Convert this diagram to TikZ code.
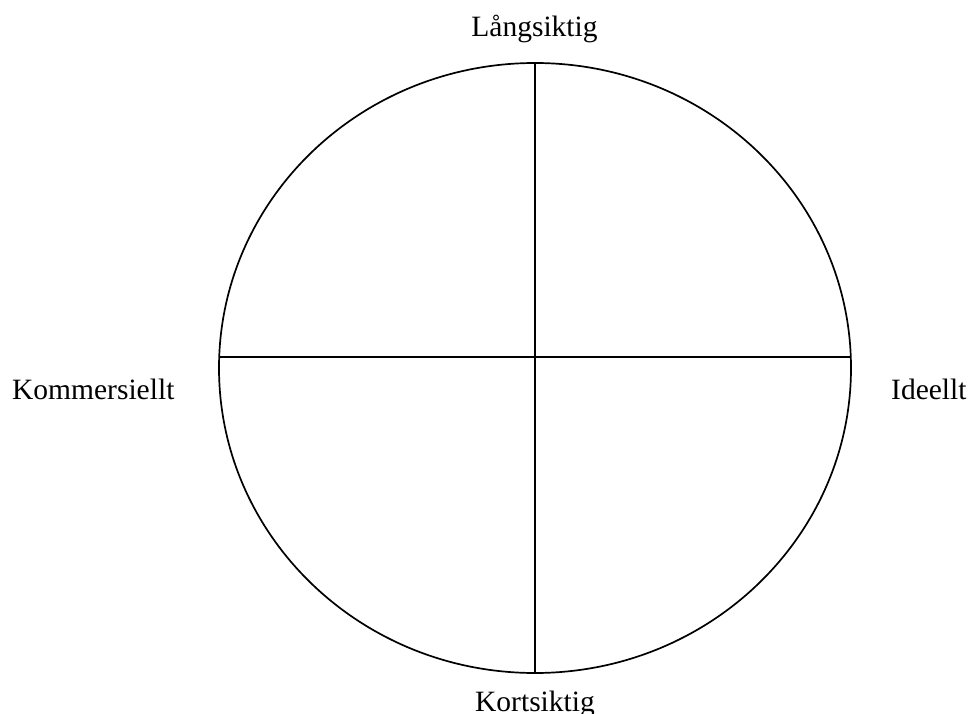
\documentclass[tikz,border=0pt]{standalone}
\usepackage{fontspec}
\setmainfont{Liberation Serif}
\begin{document}
\begin{tikzpicture}[x=1pt,y=-1pt,
  lbl/.style={font=\fontsize{29.5}{34}\selectfont, inner sep=0pt},
  ln/.style={line width=1.7pt, black}]
\useasboundingbox (0,0) rectangle (971,714);
\coordinate (c) at (535,368);
\draw[ln] (c) ellipse [x radius=316, y radius=305];
\coordinate (top) at (535,63);
\coordinate (bot) at (535,673);
\coordinate (lft) at (219.2,357);
\coordinate (rgt) at (850.8,357);
\draw[ln] (top) -- (bot);
\draw[ln] (lft) -- (rgt);
\node[lbl, anchor=base] (lang) at (534.5,37) {Långsiktig};
\node[lbl, anchor=base] (kort) at (535,711) {Kortsiktig};
\node[lbl, anchor=base west] (komm) at (12,399) {Kommersiellt};
\node[lbl, anchor=base west] (ideellt) at (891,399) {Ideellt};
\end{tikzpicture}
\end{document}
